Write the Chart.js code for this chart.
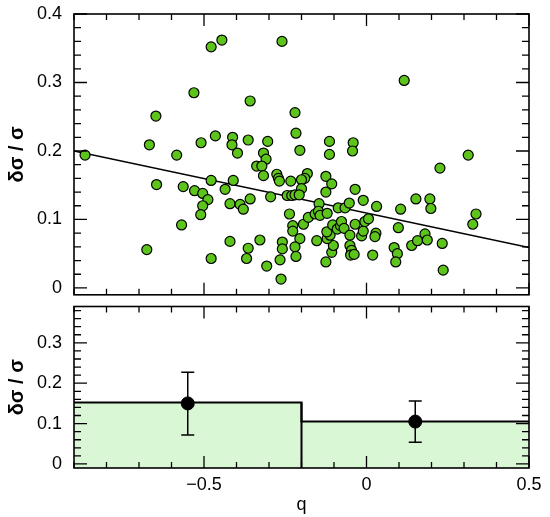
<!DOCTYPE html>
<html>
<head>
<meta charset="utf-8">
<script src="https://cdn.jsdelivr.net/npm/chart.js@4.4.1/dist/chart.umd.min.js"></script>
<style>
  html, body { margin: 0; padding: 0; background: #fff; }
  #wrap { position: relative; width: 550px; height: 517px; }
  #top { position: absolute; left: 0; top: 0; }
  #bottom { position: absolute; left: 0; top: 299px; }
</style>
</head>
<body>
<div id="wrap">
  <canvas id="top" width="550" height="301"></canvas>
  <canvas id="bottom" width="550" height="218"></canvas>
</div>
<script>
// upper panel: individual objects
var qVals = [
  -0.866, -0.648, -0.668, -0.646, -0.676, -0.584, -0.564, -0.569, -0.531, -0.529,
  -0.504, -0.488, -0.504, -0.510, -0.509, -0.478, -0.445, -0.465, -0.478, -0.435,
  -0.410, -0.478, -0.420, -0.412, -0.414, -0.397, -0.420, -0.389, -0.379, -0.369,
  -0.364, -0.364, -0.358, -0.358, -0.328, -0.307, -0.317, -0.309, -0.338, -0.322,
  -0.317, -0.304, -0.295, -0.260, -0.266, -0.263, -0.259, -0.259, -0.220, -0.217,
  -0.205, -0.276, -0.271, -0.268, -0.233, -0.182, -0.190, -0.200, -0.200, -0.244,
  -0.230, -0.220, -0.207, -0.237, -0.227, -0.227, -0.205, -0.220, -0.217, -0.194,
  -0.179, -0.158, -0.146, -0.148, -0.143, -0.121, -0.153, -0.125, -0.107, -0.102,
  -0.121, -0.112, -0.122, -0.104, -0.090, -0.080, -0.077, -0.069, -0.051, -0.035,
  -0.015, -0.010, -0.005, 0.006, -0.051, -0.046, -0.049, -0.038, 0.019, -0.125,
  -0.107, -0.125, -0.114, -0.114, -0.041, -0.043, -0.035, -0.010, 0.031, -0.087,
  -0.066, -0.053, 0.029, 0.026, 0.085, 0.095, 0.090, 0.098, 0.105, 0.116,
  0.139, 0.157, 0.180, 0.187, 0.152, 0.195, 0.198, 0.226, 0.233, 0.236,
  0.313, 0.337, 0.327
];
var dsVals = [
  0.194, 0.251, 0.209, 0.151, 0.056, 0.194, 0.148, 0.092, 0.285, 0.142,
  0.138, 0.129, 0.120, 0.107, 0.212, 0.352, 0.362, 0.222, 0.157, 0.144,
  0.157, 0.043, 0.068, 0.220, 0.209, 0.197, 0.123, 0.122, 0.115, 0.043,
  0.058, 0.216, 0.273, 0.130, 0.070, 0.032, 0.197, 0.188, 0.178, 0.178,
  0.164, 0.214, 0.133, 0.360, 0.041, 0.013, 0.067, 0.057, 0.256, 0.226,
  0.201, 0.166, 0.160, 0.156, 0.156, 0.167, 0.160, 0.158, 0.145, 0.135,
  0.135, 0.136, 0.136, 0.108, 0.091, 0.083, 0.072, 0.060, 0.046, 0.093,
  0.103, 0.108, 0.123, 0.112, 0.106, 0.109, 0.069, 0.038, 0.052, 0.062,
  0.072, 0.077, 0.082, 0.092, 0.086, 0.091, 0.097, 0.087, 0.077, 0.093,
  0.076, 0.083, 0.097, 0.101, 0.062, 0.055, 0.048, 0.049, 0.048, 0.163,
  0.152, 0.140, 0.214, 0.195, 0.212, 0.200, 0.144, 0.128, 0.119, 0.117,
  0.117, 0.124, 0.080, 0.075, 0.059, 0.050, 0.038, 0.088, 0.115, 0.303,
  0.062, 0.069, 0.079, 0.070, 0.130, 0.130, 0.116, 0.175, 0.065, 0.026,
  0.194, 0.108, 0.093
];
// linear fit drawn across the panel
var fitQ = [-0.9, 0.5];
var fitVal = [0.200, 0.059];

// lower panel: binned means
var binEdges = [-0.9, -0.2, 0.5];
var binVals = [0.152, 0.105];
var meanQ = [-0.55, 0.15];
var meanVal = [0.150, 0.105];
var errLow = [0.072, 0.054];
var errHigh = [0.227, 0.156];

var xTicks = [-0.5, 0, 0.5];
var yTicksTop = [0, 0.1, 0.2, 0.3, 0.4];
var yTicksBottom = [0, 0.1, 0.2, 0.3];

var FONT = '"Liberation Sans", Arial, sans-serif';

function fmt(v) {
  var s = String(Math.round(v * 10) / 10);
  return s.replace('-', '\u2212');
}

function near(v, step) {
  return Math.abs(v / step - Math.round(v / step)) < 1e-6;
}

// box round the plot area with inward ticks on all four sides
var frameTicks = {
  id: 'frameTicks',
  afterDatasetsDraw: function (chart) {
    var ctx = chart.ctx;
    var a = chart.chartArea;
    var xs = chart.scales.x;
    var ys = chart.scales.y;
    ctx.save();
    ctx.strokeStyle = '#000';
    ctx.lineWidth = 1.3;
    ctx.beginPath();
    var i, v, p, len;
    for (i = 0; ; i++) {
      v = -0.9 + i * 0.1;
      if (v > xs.max + 1e-6) break;
      p = xs.getPixelForValue(v);
      len = near(v, 0.5) ? 12 : 6;
      ctx.moveTo(p, a.bottom);
      ctx.lineTo(p, a.bottom - len);
      ctx.moveTo(p, a.top);
      ctx.lineTo(p, a.top + len);
    }
    for (i = 0; ; i++) {
      v = i * 0.02;
      if (v > ys.max + 1e-6) break;
      p = ys.getPixelForValue(v);
      len = near(v, 0.1) ? 13 : 7;
      ctx.moveTo(a.left, p);
      ctx.lineTo(a.left + len, p);
      ctx.moveTo(a.right, p);
      ctx.lineTo(a.right - len, p);
    }
    ctx.stroke();
    ctx.lineWidth = 1.6;
    ctx.strokeRect(a.left, a.top, a.right - a.left, a.bottom - a.top);
    ctx.restore();
  }
};

var errorBars = {
  id: 'errorBars',
  afterDatasetsDraw: function (chart) {
    var ctx = chart.ctx;
    var xs = chart.scales.x;
    var ys = chart.scales.y;
    ctx.save();
    ctx.strokeStyle = '#000';
    ctx.lineWidth = 1.5;
    ctx.beginPath();
    for (var i = 0; i < meanQ.length; i++) {
      var x = xs.getPixelForValue(meanQ[i]);
      var y0 = ys.getPixelForValue(errLow[i]);
      var y1 = ys.getPixelForValue(errHigh[i]);
      ctx.moveTo(x, y0);
      ctx.lineTo(x, y1);
      ctx.moveTo(x - 6.5, y0);
      ctx.lineTo(x + 6.5, y0);
      ctx.moveTo(x - 6.5, y1);
      ctx.lineTo(x + 6.5, y1);
    }
    ctx.stroke();
    ctx.restore();
  }
};

function yAxis(min, max, ticks) {
  return {
    type: 'linear',
    min: min,
    max: max,
    afterBuildTicks: function (s) {
      s.ticks = ticks.map(function (v) { return { value: v }; });
    },
    afterFit: function (s) {
      s.width = 74;
      s.paddingTop = 0;
      s.paddingBottom = 0;
    },
    grid: { display: false, drawTicks: false },
    border: { display: false },
    ticks: {
      padding: 12,
      color: '#000',
      font: { family: FONT, size: 18 },
      callback: function (v) { return fmt(v); }
    },
    title: {
      display: true,
      text: '\u03b4\u03c3 / \u03c3',
      color: '#000',
      font: { family: FONT, size: 20, weight: 'bold' },
      padding: { top: 5, bottom: 0 }
    }
  };
}

var scatterPts = qVals.map(function (q, i) { return { x: q, y: dsVals[i] }; });
var fitPts = fitQ.map(function (q, i) { return { x: q, y: fitVal[i] }; });

new Chart(document.getElementById('top').getContext('2d'), {
  type: 'scatter',
  data: {
    datasets: [
      {
        data: scatterPts,
        pointRadius: 5,
        pointBackgroundColor: '#5cc41a',
        pointBorderColor: '#000',
        pointBorderWidth: 1.2,
        order: 1
      },
      {
        type: 'line',
        data: fitPts,
        borderColor: '#000',
        borderWidth: 1.5,
        pointRadius: 0,
        fill: false,
        order: 2
      }
    ]
  },
  options: {
    responsive: false,
    animation: false,
    layout: { padding: { top: 14, right: 21, bottom: 1, left: 0 } },
    plugins: { legend: { display: false }, tooltip: { enabled: false } },
    scales: {
      x: { type: 'linear', min: -0.9, max: 0.5, display: false },
      y: yAxis(-0.01, 0.4, yTicksTop)
    }
  },
  plugins: [frameTicks]
});

var stepPts = binEdges.map(function (e, i) {
  return { x: e, y: binVals[Math.min(i, binVals.length - 1)] };
});
var dividers = [];
for (var i = 1; i < binEdges.length - 1; i++) {
  dividers.push({ x: binEdges[i], y: -0.01 });
  dividers.push({ x: binEdges[i], y: Math.max(binVals[i - 1], binVals[i]) });
}
var meanPts = meanQ.map(function (q, i) { return { x: q, y: meanVal[i] }; });

new Chart(document.getElementById('bottom').getContext('2d'), {
  type: 'scatter',
  data: {
    datasets: [
      {
        type: 'line',
        data: stepPts,
        stepped: true,
        fill: 'start',
        backgroundColor: '#d9f7d4',
        borderColor: '#000',
        borderWidth: 2,
        pointRadius: 0,
        order: 3
      },
      {
        type: 'line',
        data: dividers,
        borderColor: '#000',
        borderWidth: 2,
        pointRadius: 0,
        fill: false,
        order: 2
      },
      {
        data: meanPts,
        pointRadius: 6.5,
        pointBackgroundColor: '#000',
        pointBorderColor: '#000',
        order: 1
      }
    ]
  },
  options: {
    responsive: false,
    animation: false,
    layout: { padding: { top: 1, right: 21, bottom: 0, left: 0 } },
    plugins: { legend: { display: false }, tooltip: { enabled: false } },
    scales: {
      x: {
        type: 'linear',
        min: -0.9,
        max: 0.5,
        afterBuildTicks: function (s) {
          s.ticks = xTicks.map(function (v) { return { value: v }; });
        },
        afterFit: function (s) {
          s.height = 49;
          s.paddingLeft = 0;
          s.paddingRight = 0;
        },
        grid: { display: false, drawTicks: false },
        border: { display: false },
        ticks: {
          padding: 6,
          maxRotation: 0,
          color: '#000',
          font: { family: FONT, size: 18 },
          callback: function (v) { return fmt(v); }
        },
        title: {
          display: true,
          text: 'q',
          color: '#000',
          font: { family: FONT, size: 18 },
          padding: { top: 0, bottom: 1 }
        }
      },
      y: yAxis(-0.01, 0.39, yTicksBottom)
    }
  },
  plugins: [errorBars, frameTicks]
});
</script>
</body>
</html>
